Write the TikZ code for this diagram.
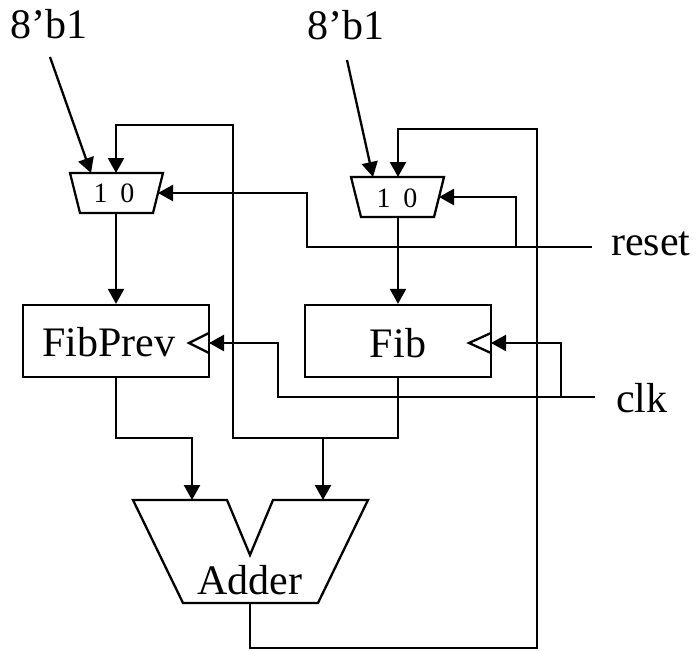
\documentclass[tikz,border=0pt]{standalone}
\usepackage{fontspec}
\setmainfont{Liberation Serif}
\usetikzlibrary{arrows.meta}
\begin{document}
\begin{tikzpicture}[x=1pt,y=-1pt,
  wire/.style={line width=2.3pt},
  arr/.style={wire,-{Triangle[length=15pt,width=16pt]}},
  regbox/.style={draw,line width=2.3pt,inner sep=0pt,minimum width=186pt,minimum height=72pt},
  big/.style={inner sep=0pt,font=\fontsize{42}{48}\selectfont},
  small/.style={inner sep=0pt,font=\fontsize{28}{32}\selectfont}]
\useasboundingbox (0,0) rectangle (697,651);
% labels
\node[big,anchor=base] (b1) at (49,38) {8’b1};
\node[big,anchor=base] (b2) at (346,39) {8’b1};
\node[big,anchor=base west] (rsttxt) at (611,255) {reset};
\node[big,anchor=base west] (clktxt) at (616,412) {clk};
% registers
\node[regbox] (fp) at (116,341) {};
\node[regbox] (fb) at (398,341) {};
\node[big,anchor=base] (fpl) at (109,356) {FibPrev};
\node[big,anchor=base] (fbl) at (398,357) {Fib};
% muxes
\coordinate (m1tl) at (70,173); \coordinate (m1tr) at (163,173);
\coordinate (m1br) at (153,213); \coordinate (m1bl) at (80,213);
\coordinate (m2tl) at (351,177); \coordinate (m2tr) at (444,177);
\coordinate (m2br) at (434,217); \coordinate (m2bl) at (361,217);
\draw[wire] (m1tl) -- (m1tr) -- (m1br) -- (m1bl) -- cycle;
\draw[wire] (m2tl) -- (m2tr) -- (m2br) -- (m2bl) -- cycle;
\node[small,anchor=base] (m1) at (114,202) {1\hspace{0.45em}0};
\node[small,anchor=base] (m2) at (397,207) {1\hspace{0.45em}0};
\coordinate (m1in1) at (91,173); \coordinate (m1in0) at (116,173);
\coordinate (m1sel) at (158,193); \coordinate (m1out) at (116,213);
\coordinate (m2in1) at (373,177); \coordinate (m2in0) at (398,177);
\coordinate (m2sel) at (439,197); \coordinate (m2out) at (398,217);
% adder
\coordinate (a1) at (133,500); \coordinate (a2) at (227,500);
\coordinate (a3) at (250,555); \coordinate (a4) at (273,500);
\coordinate (a5) at (368,500); \coordinate (a6) at (318,603);
\coordinate (a7) at (183,603);
\draw[wire] (a1) -- (a2) -- (a3) -- (a4) -- (a5) -- (a6) -- (a7) -- cycle;
\node[big,anchor=base] (addl) at (250,594) {Adder};
\coordinate (ainL) at (192,500); \coordinate (ainR) at (323,500);
\coordinate (aout) at (250,603);
% clock triangles
\draw[wire] (209,333) -- (189,343) -- (209,353);
\draw[wire] (491,333) -- (469,343) -- (491,353);
\coordinate (fpclk) at (209,343); \coordinate (fbclk) at (491,343);
% constant inputs
\coordinate (s1) at (50,57); \coordinate (s2) at (347,60);
\draw[arr] (s1) -- (m1in1);
\draw[arr] (s2) -- (m2in1);
% mux outputs
\draw[arr] (m1out) -- (fp.north);
\draw[arr] (m2out) -- (fb.north);
% Fib output and feedback
\coordinate (fbk1) at (233,438); \coordinate (fbk2) at (233,125);
\coordinate (jR) at (323,438); \coordinate (jL) at (192,438);
\draw[arr] (fb.south) |- (fbk1) -- (fbk2) -| (m1in0);
\draw[arr] (jR) -- (ainR);
\draw[arr] (fp.south) |- (jL) -- (ainL);
% adder feedback
\coordinate (fbb) at (537,648); \coordinate (fbt) at (537,129);
\draw[arr] (aout) |- (fbb) -- (fbt) -| (m2in0);
% reset
\coordinate (rst) at (592,247); \coordinate (rk) at (307,193);
\coordinate (rj) at (516,247);
\draw[arr] (rst) -| (rk) -- (m1sel);
\draw[arr] (rj) |- (m2sel);
% clk
\coordinate (clkc) at (595,397); \coordinate (ck) at (278,343);
\coordinate (cj) at (561,397);
\draw[arr] (clkc) -| (ck) -- (fpclk);
\draw[arr] (cj) |- (fbclk);
\end{tikzpicture}
\end{document}
